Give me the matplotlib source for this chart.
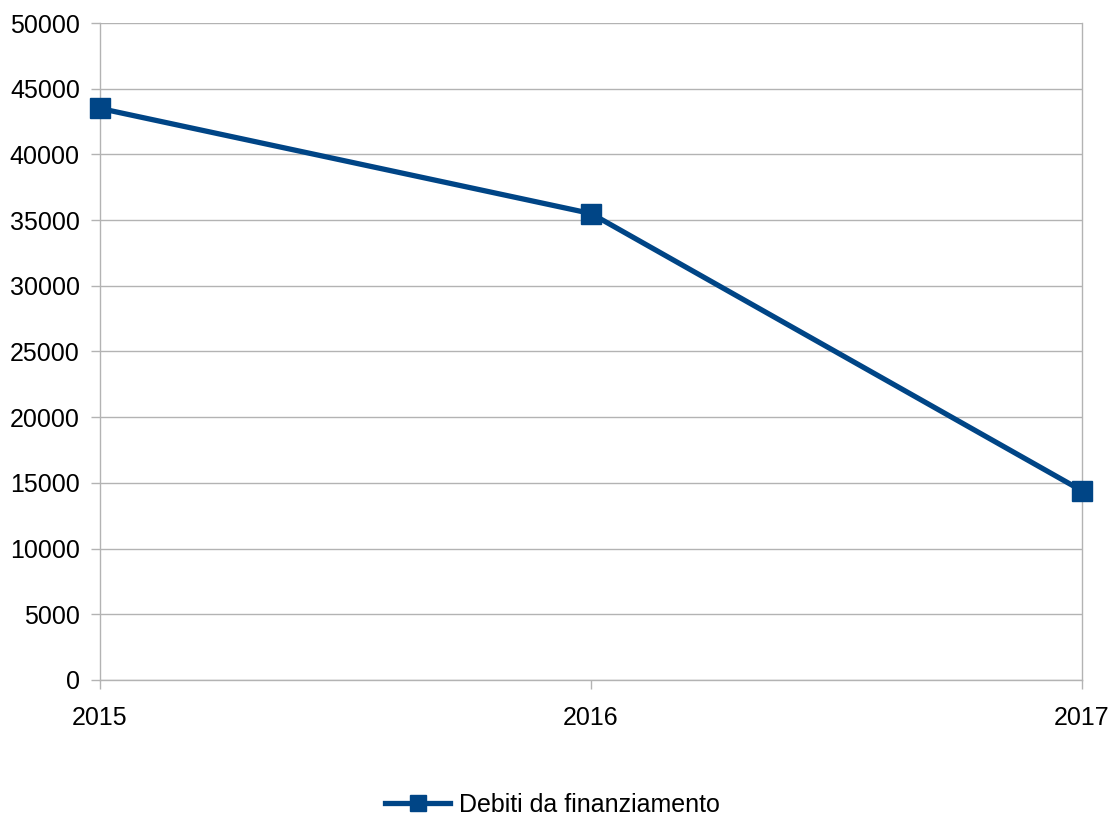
import matplotlib
matplotlib.use("Agg")
import matplotlib.pyplot as plt

plt.rcParams["font.family"] = ["Liberation Sans", "DejaVu Sans"]
plt.rcParams["font.size"] = 18

# data
years = ["2015", "2016", "2017"]
debiti = [43500, 35500, 14400]

grid_col = "#b3b3b3"
line_col = "#004586"

fig = plt.figure(figsize=(11.11, 8.16), dpi=100)
ax = fig.add_axes([0.090, 0.1667, 0.8839, 0.8051])

x = list(range(len(years)))
ax.plot(x, debiti, color=line_col, linewidth=3.8, marker="s", markersize=14.5,
        label="Debiti da finanziamento", zorder=3, clip_on=False)

ax.set_xlim(0, len(years) - 1)
ax.set_ylim(0, 50000)
ax.set_yticks(range(0, 50001, 5000))
ax.set_xticks(x)
ax.set_xticklabels(years)

ax.yaxis.grid(True, color=grid_col, linewidth=1)
ax.set_axisbelow(True)
ax.spines["top"].set_visible(False)
for side in ["left", "bottom", "right"]:
    ax.spines[side].set_color(grid_col)
    ax.spines[side].set_linewidth(1)
ax.tick_params(axis="both", color=grid_col, length=6.5, width=1, labelcolor="black")
ax.tick_params(axis="y", pad=8)
ax.tick_params(axis="x", pad=12)

ax.legend(loc="center", bbox_to_anchor=(0.461, -0.19), frameon=False,
          handlelength=2.6, handletextpad=0.35, markerscale=0.75,
          borderpad=0, borderaxespad=0)

fig.savefig("out.png", dpi=100)
